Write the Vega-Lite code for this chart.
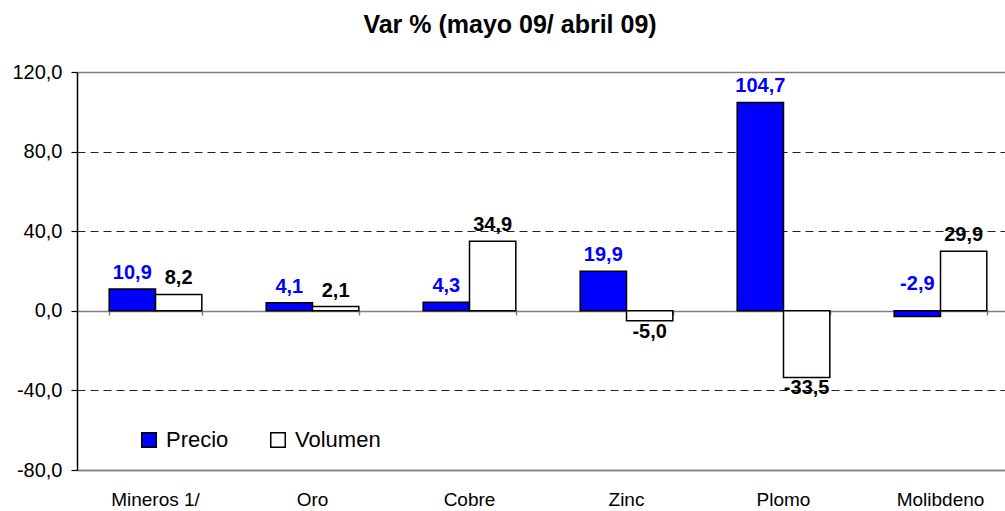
{
  "$schema": "https://vega.github.io/schema/vega-lite/v6.json",
  "width": 928,
  "height": 398,
  "autosize": {"type": "none"},
  "padding": {"left": 77, "top": 72, "right": 0, "bottom": 41},
  "background": "white",
  "title": {"text": "Var % (mayo 09/ abril 09)", "fontSize": 25, "fontWeight": "bold", "font": "Liberation Sans", "color": "black", "anchor": "middle", "dx": -31, "offset": 4, "baseline": "alphabetic"},
  "config": {
    "view": {"stroke": null},
    "font": "Liberation Sans",
    "locale": {"number": {"decimal": ",", "thousands": ".", "grouping": [3], "currency": ["", " €"], "minus": "-"}}
  },
  "data": {"values": [
    {"cat": "Mineros 1/", "serie": "Precio", "valor": 10.9},
    {"cat": "Mineros 1/", "serie": "Volumen", "valor": 8.2},
    {"cat": "Oro", "serie": "Precio", "valor": 4.1},
    {"cat": "Oro", "serie": "Volumen", "valor": 2.1},
    {"cat": "Cobre", "serie": "Precio", "valor": 4.3},
    {"cat": "Cobre", "serie": "Volumen", "valor": 34.9},
    {"cat": "Zinc", "serie": "Precio", "valor": 19.9},
    {"cat": "Zinc", "serie": "Volumen", "valor": -5.0},
    {"cat": "Plomo", "serie": "Precio", "valor": 104.7},
    {"cat": "Plomo", "serie": "Volumen", "valor": -33.5},
    {"cat": "Molibdeno", "serie": "Precio", "valor": -2.9},
    {"cat": "Molibdeno", "serie": "Volumen", "valor": 29.9}
  ]},
  "layer": [
    {
      "mark": {"type": "bar", "opacity": 0},
      "encoding": {
        "x": {"field": "cat", "type": "nominal", "sort": ["Mineros 1/", "Oro", "Cobre", "Zinc", "Plomo", "Molibdeno"],
          "scale": {"range": [0, 942], "paddingInner": 0.41, "paddingOuter": 0.205},
          "axis": {"orient": "bottom", "offset": -160, "labels": false, "domain": false, "ticks": true, "tickBand": "extent", "tickColor": "#808080", "tickSize": 5, "tickWidth": 1.5, "title": null, "grid": false}},
        "y": {"field": "valor", "type": "quantitative"}
      }
    },
    {
      "mark": {"type": "bar", "stroke": "black", "strokeWidth": 1.5},
      "encoding": {
        "x": {"field": "cat", "type": "nominal", "sort": ["Mineros 1/", "Oro", "Cobre", "Zinc", "Plomo", "Molibdeno"],
          "axis": {"orient": "bottom", "title": null, "labelFontSize": 19, "labelColor": "black", "labelPadding": 20, "labelAngle": 0, "ticks": false, "domain": true, "domainColor": "#808080", "domainWidth": 1.5, "grid": false}},
        "xOffset": {"field": "serie", "type": "nominal", "scale": {"domain": ["Precio", "Volumen"], "padding": 0}},
        "y": {"field": "valor", "type": "quantitative",
          "scale": {"domain": [-80, 120], "nice": false, "zero": false},
          "axis": {"values": [-80, -40, 0, 40, 80, 120], "format": ".1f", "title": null, "labelFontSize": 20, "labelColor": "black", "labelPadding": 9, "tickSize": 6, "tickColor": "black", "tickWidth": 1.2, "domainColor": "black", "domainWidth": 1.5,
            "grid": true,
            "gridColor": {"condition": {"test": "datum.value == 0 || datum.value == 120 || datum.value == -80", "value": "#808080"}, "value": "#222222"},
            "gridDash": {"condition": {"test": "datum.value == 0 || datum.value == 120 || datum.value == -80", "value": []}, "value": [8, 5]},
            "gridWidth": {"condition": {"test": "datum.value == 0 || datum.value == 120 || datum.value == -80", "value": 1.5}, "value": 1}}},
        "fill": {"field": "serie", "type": "nominal",
          "scale": {"domain": ["Precio", "Volumen"], "range": ["#0000FF", "#FFFFFF"]},
          "legend": {"title": null, "orient": "none", "legendX": 61, "legendY": 357, "direction": "horizontal", "symbolType": "square", "symbolSize": 210, "symbolStrokeColor": "black", "symbolStrokeWidth": 1.5, "symbolOpacity": 1, "labelFontSize": 22, "labelColor": "black", "labelFont": "Liberation Sans", "columnPadding": 38, "labelOffset": 6}}
      }
    },
    {
      "transform": [{"filter": "datum.valor >= 0"}],
      "mark": {"type": "text", "baseline": "bottom", "dy": -6, "fontSize": 20, "fontWeight": "bold", "font": "Liberation Sans"},
      "encoding": {
        "x": {"field": "cat", "type": "nominal", "sort": ["Mineros 1/", "Oro", "Cobre", "Zinc", "Plomo", "Molibdeno"], "axis": null},
        "xOffset": {"field": "serie", "type": "nominal", "scale": {"domain": ["Precio", "Volumen"], "padding": 0}},
        "y": {"field": "valor", "type": "quantitative"},
        "text": {"field": "valor", "type": "quantitative", "format": ".1f"},
        "color": {"condition": {"test": "datum.serie == 'Precio'", "value": "#0000FF"}, "value": "#000000"}
      }
    },
    {
      "transform": [{"filter": "datum.valor < 0 && datum.serie == 'Volumen'"}],
      "mark": {"type": "text", "baseline": "top", "dy": 1, "fontSize": 20, "fontWeight": "bold", "font": "Liberation Sans", "color": "#000000"},
      "encoding": {
        "x": {"field": "cat", "type": "nominal", "sort": ["Mineros 1/", "Oro", "Cobre", "Zinc", "Plomo", "Molibdeno"], "axis": null},
        "xOffset": {"field": "serie", "type": "nominal", "scale": {"domain": ["Precio", "Volumen"], "padding": 0}},
        "y": {"field": "valor", "type": "quantitative"},
        "text": {"field": "valor", "type": "quantitative", "format": ".1f"}
      }
    },
    {
      "transform": [{"filter": "datum.valor < 0 && datum.serie == 'Precio'"}],
      "mark": {"type": "text", "baseline": "bottom", "dy": -17, "fontSize": 20, "fontWeight": "bold", "font": "Liberation Sans", "color": "#0000FF"},
      "encoding": {
        "x": {"field": "cat", "type": "nominal", "sort": ["Mineros 1/", "Oro", "Cobre", "Zinc", "Plomo", "Molibdeno"], "axis": null},
        "xOffset": {"field": "serie", "type": "nominal", "scale": {"domain": ["Precio", "Volumen"], "padding": 0}},
        "y": {"datum": 0, "type": "quantitative"},
        "text": {"field": "valor", "type": "quantitative", "format": ".1f"}
      }
    }
  ],
  "resolve": {"axis": {"x": "independent"}}
}
